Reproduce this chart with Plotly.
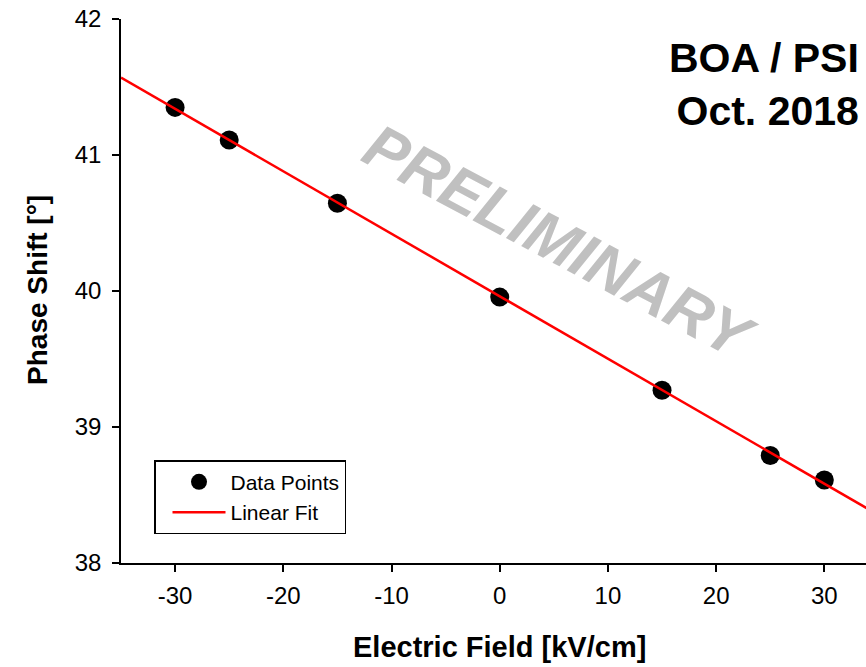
import numpy as np
import plotly.graph_objects as go

# Measured phase shift vs. applied electric field
field_kv_cm = [-30, -25, -15, 0, 15, 25, 30]
phase_shift_deg = [41.35, 41.11, 40.645, 39.955, 39.27, 38.79, 38.61]

x_ticks = [-30, -20, -10, 0, 10, 20, 30]
y_ticks = [38, 39, 40, 41, 42]

# Least-squares straight line through the measurements
slope, intercept = np.polyfit(field_kv_cm, phase_shift_deg, 1)
fit_x = np.array([-35.0, 35.0])
fit_y = slope * fit_x + intercept

FONT = "Liberation Sans, Arial, sans-serif"

fig = go.Figure()
fig.add_trace(go.Scatter(
    x=field_kv_cm, y=phase_shift_deg, mode="markers", name="Data Points",
    marker=dict(size=19, color="black"),
))
fig.add_trace(go.Scatter(
    x=fit_x, y=fit_y, mode="lines", name="Linear Fit",
    line=dict(color="red", width=2.5),
))

axis_common = dict(
    showline=True, linecolor="black", linewidth=1.5,
    ticks="outside", ticklen=7, tickwidth=1.5, tickcolor="black",
    showgrid=False, zeroline=False,
    tickfont=dict(family=FONT, size=24, color="black"),
)
fig.update_xaxes(range=[-35, 33.85], tickvals=x_ticks,
                 ticktext=[str(v) for v in x_ticks],
                 ticklabelstandoff=3, **axis_common)
fig.update_yaxes(range=[38, 42], tickvals=y_ticks,
                 ticktext=[str(v) for v in y_ticks],
                 ticklabelstandoff=6, **axis_common)

fig.add_annotation(x=0, xref="x", y=0, yref="paper", yshift=-84,
                   text="<b>Electric Field [kV/cm]</b>", showarrow=False,
                   yanchor="middle", font=dict(family=FONT, size=29, color="black"))
fig.add_annotation(x=0, xref="paper", xshift=-83, y=0.502, yref="paper",
                   text="<b>Phase Shift [°]</b>", textangle=-90, showarrow=False,
                   xanchor="center", yanchor="middle",
                   font=dict(family=FONT, size=28, color="black"))

fig.add_annotation(x=1, xref="paper", xshift=-5, y=1, yref="paper", yshift=-14,
                   text="<b>BOA / PSI</b><br><b>Oct. 2018</b>", align="right",
                   showarrow=False, xanchor="right", yanchor="top",
                   font=dict(family=FONT, size=41, color="black"))

fig.add_annotation(x=5.6, xref="x", y=40.36, yref="y",
                   text="<b><i>PRELIMINARY</i></b>", textangle=28, showarrow=False,
                   font=dict(family=FONT, size=62, color="#c0c0c0"))

fig.update_layout(
    width=866, height=667,
    margin=dict(l=121, r=0, t=19, b=104),
    paper_bgcolor="white", plot_bgcolor="white",
    showlegend=True,
    legend=dict(
        x=0.0443, y=0.189, xanchor="left", yanchor="top",
        bordercolor="black", borderwidth=1.5, bgcolor="white",
        font=dict(family=FONT, size=21, color="black"),
        tracegroupgap=0, itemsizing="trace",
        indentation=12, itemwidth=53,
    ),
)

fig.write_html("out.html")
